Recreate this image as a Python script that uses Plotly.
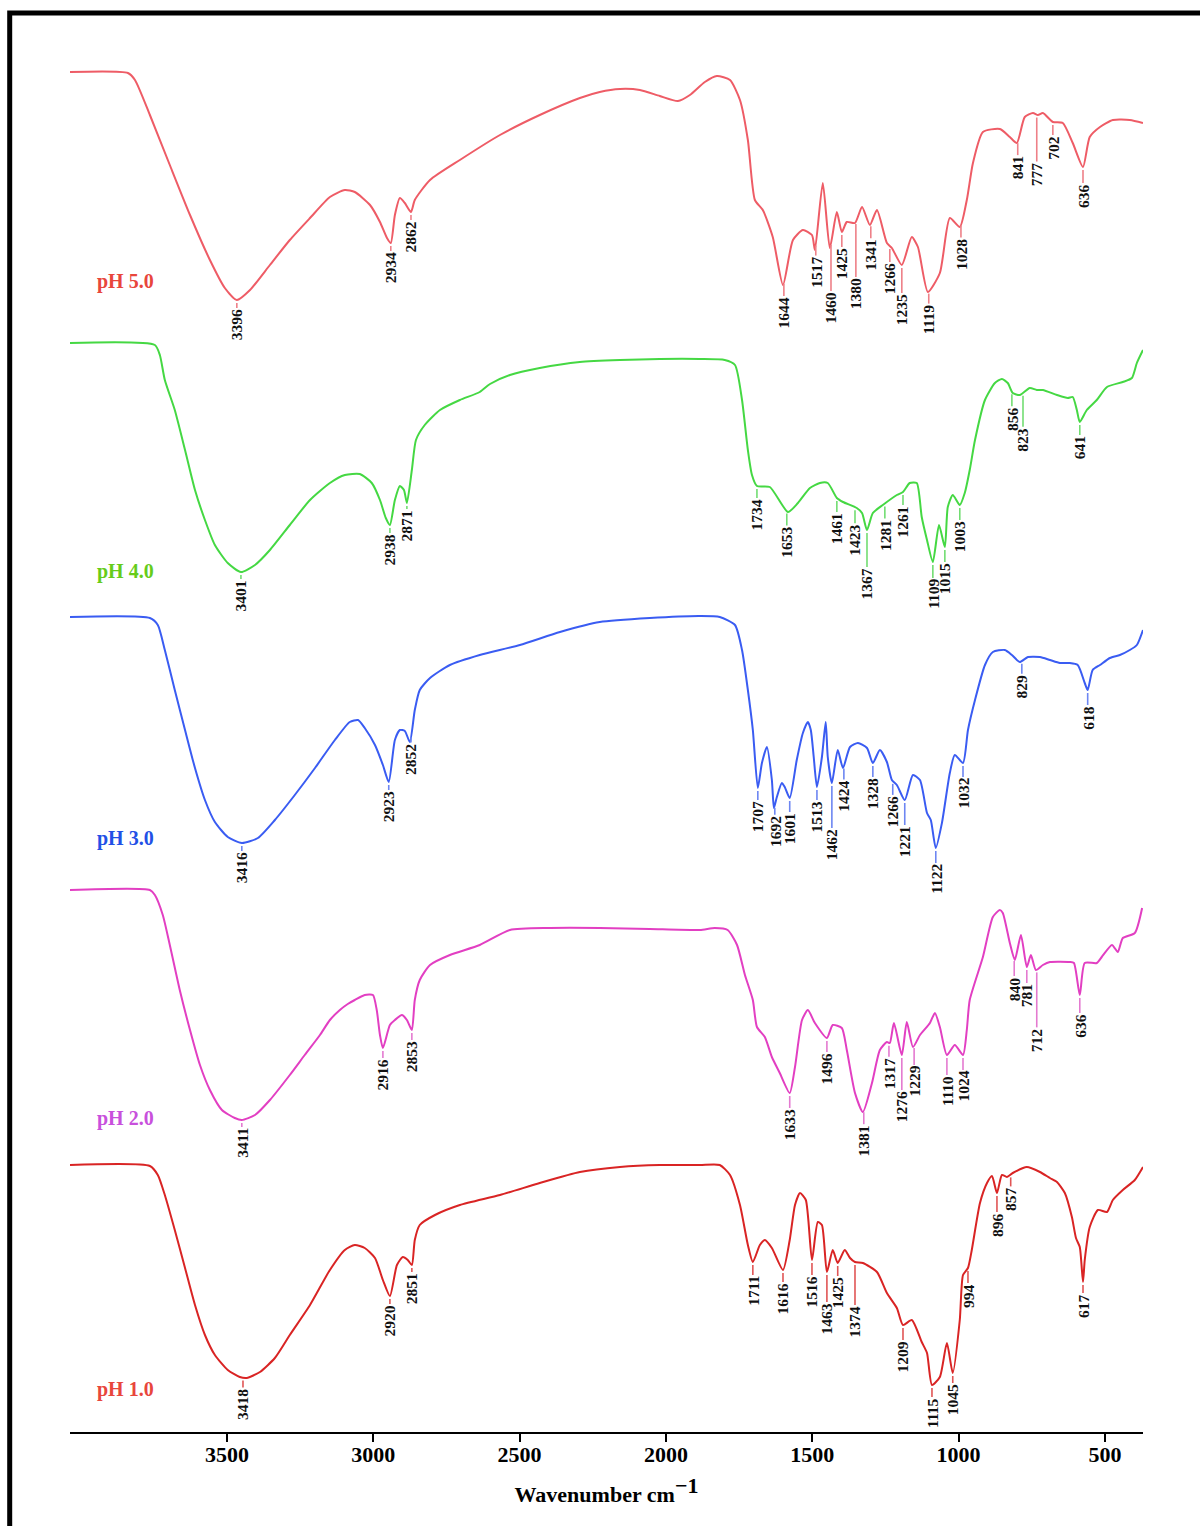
import numpy as np
import plotly.graph_objects as go

# ---------------- data (wavenumber in cm-1, relative transmittance depth) ----------------
wn_ph5 = [4036,3838,3814,3763,3695,3626,3558,3507,3466,3421,3353,3285,3216,3148,3097,3063,3011,2977,2953,2940,
          2926,2909,2892,2871,2858,2806,2704,2567,2431,2294,2226,2157,2089,2021,1959,1918,1867,1826,1781,1747,
          1720,1696,1669,1635,1600,1566,1532,1501,1491,1464,1440,1416,1399,1382,1354,1330,1303,1279,1245,1228,
          1194,1160,1139,1105,1064,1030,996,972,951,917,859,825,801,774,746,729,712,678,644,610,
          575,552,517,473,415,370]
depth_ph5 = [0,1,8,43,93,143,188,216,228,218,193,168,146,125,118,120,133,150,166,171,
             143,126,131,140,128,108,88,63,43,26,20,17,18,24,29,23,10,4,8,28,
             68,128,138,165,213,168,158,163,178,111,176,140,160,150,151,135,153,138,171,176,
             193,165,175,220,201,146,155,128,91,60,57,65,71,45,41,43,41,50,51,71,
             95,65,55,48,48,51]

wn_ph4 = [4036,3746,3729,3712,3678,3643,3609,3575,3541,3497,3452,3404,3353,3285,3216,3148,3097,3046,3005,2977,
          2957,2943,2926,2909,2895,2885,2868,2854,2824,2772,2704,2636,2601,2533,2431,2294,2157,2021,1884,1799,
          1764,1740,1720,1706,1689,1645,1583,1549,1508,1474,1447,1416,1395,1348,1330,1313,1293,1259,1211,1190,
          1167,1143,1126,1108,1088,1067,1047,1037,1020,996,979,962,944,910,876,852,832,815,791,757,
          733,712,664,627,610,596,586,562,528,493,439,408,391,370]
depth_ph4 = [0,2,12,37,67,107,147,177,202,220,229,222,207,182,157,140,132,131,140,157,
             175,182,157,143,147,160,127,97,82,67,57,49,41,32,25,19,17,16,16,17,
             22,57,107,132,143,144,169,160,145,140,140,155,159,165,170,187,170,162,152,149,
             140,140,174,197,219,182,204,164,152,162,150,127,97,57,40,36,40,50,52,45,
             47,47,52,55,54,67,79,67,57,44,39,35,20,7]

wn_ph3 = [4036,3763,3736,3712,3678,3643,3609,3575,3541,3497,3449,3394,3336,3268,3199,3131,3080,3052,3029,2994,
          2967,2947,2926,2909,2892,2875,2858,2841,2806,2738,2636,2499,2362,2226,2055,1884,1816,1764,1740,1720,
          1703,1686,1672,1655,1638,1631,1621,1604,1594,1577,1553,1532,1515,1505,1495,1484,1467,1454,1447,1433,
          1413,1395,1371,1344,1313,1293,1269,1245,1228,1211,1184,1156,1132,1108,1095,1078,1057,1030,1013,985,
          968,944,910,883,842,818,791,763,722,688,654,620,593,569,559,542,517,483,449,415,391,370]
depth_ph3 = [0,1,8,33,73,113,151,183,205,220,226,221,203,178,151,123,105,103,111,128,
             148,165,123,113,114,125,93,73,61,48,38,28,15,5,1,-1,0,8,33,73,
             113,171,146,130,163,191,180,166,170,181,143,116,105,113,140,170,140,105,140,166,
             133,151,130,126,131,146,133,145,163,168,183,158,163,196,203,231,206,156,138,146,
             113,83,48,35,33,38,45,40,40,43,46,46,48,66,73,53,48,41,38,33,28,13]

wn_ph2 = [4036,3763,3746,3719,3695,3661,3626,3592,3558,3517,3473,3449,3404,3353,3285,3234,3182,3148,3114,3087,
          3063,3029,3001,2988,2977,2967,2943,2926,2902,2885,2868,2858,2841,2806,2738,2636,2533,2396,2226,2055,
          1884,1833,1789,1757,1730,1703,1689,1662,1638,1611,1577,1559,1535,1515,1491,1450,1430,1399,1382,1354,
          1327,1296,1269,1245,1235,1221,1194,1177,1156,1132,1098,1081,1064,1040,1013,985,972,962,917,883,
          859,849,825,808,787,767,753,736,712,688,620,606,586,569,528,511,476,456,439,398,373]
depth_ph2 = [0,0,5,25,55,100,140,175,200,220,228,230,225,210,185,165,145,130,120,114,
             110,105,105,120,145,158,135,130,125,130,140,110,90,75,65,55,40,38,38,39,
             40,38,40,55,85,110,137,147,167,183,203,177,130,120,133,148,135,138,160,203,
             222,193,160,152,153,133,165,132,157,145,133,123,137,165,155,165,140,110,67,27,
             20,23,53,70,45,77,65,80,75,72,72,73,105,73,73,67,55,62,48,43,18]

wn_ph1 = [4036,3763,3736,3712,3678,3643,3609,3575,3541,3497,3456,3432,3387,3336,3285,3216,3148,3097,3063,3029,
          2994,2967,2943,2919,2899,2882,2868,2858,2841,2789,2704,2567,2431,2294,2157,2021,1884,1816,1781,1747,
          1720,1703,1679,1662,1638,1600,1577,1559,1542,1522,1501,1481,1467,1450,1430,1413,1389,1371,1354,1327,
          1279,1245,1211,1190,1160,1126,1108,1091,1064,1040,1020,996,985,968,955,927,903,886,869,852,
          835,815,767,722,688,664,637,613,599,586,575,569,552,524,493,473,439,398,370]
depth_ph1 = [0,1,10,30,65,103,140,170,190,205,212,213,207,193,170,140,105,85,80,83,
             93,115,131,100,92,95,100,75,60,50,40,30,18,7,2,0,0,0,10,40,
             80,97,80,75,83,105,75,40,28,35,95,57,60,107,85,98,85,93,97,98,
             107,128,143,160,155,177,188,220,212,178,208,155,110,103,85,38,18,11,28,10,
             12,8,2,7,13,17,28,52,73,82,117,95,62,45,47,35,25,15,2]

# peak labels: position, printed value
pk_ph5_pos = [3466,2940,2871,1597,1488,1436,1399,1351,1300,1235,1194,1102,992,798,733,678,575]
pk_ph5_txt = ["3396","2934","2862","1644","1517","1460","1425","1380","1341","1266","1235","1119","1028","841","777","702","636"]
pk_ph4_pos = [3452,2943,2885,1689,1587,1416,1354,1313,1252,1190,1088,1047,996,818,780,586]
pk_ph4_txt = ["3401","2938","2871","1734","1653","1461","1423","1367","1281","1261","1109","1015","1003","856","823","641"]
pk_ph3_pos = [3449,2947,2871,1686,1628,1577,1484,1433,1392,1293,1225,1184,1078,985,784,559]
pk_ph3_txt = ["3416","2923","2852","1707","1692","1601","1513","1462","1424","1328","1266","1221","1122","1032","829","618"]
pk_ph2_pos = [3449,2967,2868,1577,1450,1324,1238,1194,1152,1040,985,810,767,733,586]
pk_ph2_txt = ["3411","2916","2853","1633","1496","1381","1317","1276","1229","1110","1024","840","781","712","636"]
pk_ph1_pos = [3445,2943,2868,1703,1600,1501,1450,1413,1354,1190,1091,1020,968,869,822,575]
pk_ph1_txt = ["3418","2920","2851","1711","1616","1516","1463","1425","1374","1209","1115","1045","994","896","857","617"]

tick_vals = [3500, 3000, 2500, 2000, 1500, 1000, 500]
names = ["pH 5.0", "pH 4.0", "pH 3.0", "pH 2.0", "pH 1.0"]

# ---------------- layout / styling ----------------
lead_ph5 = [8,8,8,15,13,49,15,56,15,16,28,13,15,15,47,13,16]
lead_ph4 = [7,8,6,12,15,14,16,37,15,13,16,15,15,15,34,13]
lead_ph3 = [8,8,8,12,10,14,13,45,14,14,14,25,15,14,13,15]
lead_ph2 = [7,10,10,15,14,15,14,35,20,20,15,18,16,58,18]
lead_ph1 = [10,8,7,13,12,15,30,13,43,15,12,10,15,19,12,11]

offsets = [1360, 1089, 815, 542, 267]
line_colors = ["#EE5C66", "#45D843", "#3A5CF2", "#E23FC2", "#D92424"]
lead_colors = ["#EE8088", "#72DD72", "#6D86F2", "#E47AD0", "#E05555"]
name_colors = ["#E8463C", "#66CC1A", "#2250E6", "#C850DC", "#E8463C"]
name_y = [1151, 861, 594, 314, 43]

spectra = [
    (wn_ph5, depth_ph5, pk_ph5_pos, pk_ph5_txt, lead_ph5),
    (wn_ph4, depth_ph4, pk_ph4_pos, pk_ph4_txt, lead_ph4),
    (wn_ph3, depth_ph3, pk_ph3_pos, pk_ph3_txt, lead_ph3),
    (wn_ph2, depth_ph2, pk_ph2_pos, pk_ph2_txt, lead_ph2),
    (wn_ph1, depth_ph1, pk_ph1_pos, pk_ph1_txt, lead_ph1),
]

SERIF = "Liberation Serif, Times New Roman, serif"
fig = go.Figure()
annotations = []
gap = 3

for i, (wn, dep, ppos, ptxt, lead) in enumerate(spectra):
    wn = np.asarray(wn, float)
    y = offsets[i] - np.asarray(dep, float)
    fig.add_trace(go.Scatter(x=wn, y=y, mode="lines", name=names[i],
                             line=dict(color=line_colors[i], width=2, shape="spline", smoothing=0.6),
                             hoverinfo="skip", showlegend=False))
    lx, ly = [], []
    for p, t, L in zip(ppos, ptxt, lead):
        yc = float(np.interp(p, wn[::-1], y[::-1]))
        lx += [p, p, None]
        ly += [yc - gap, yc - L, None]
        annotations.append(dict(x=p, y=yc - L, xref="x", yref="y", text=t, showarrow=False,
                                textangle=-90, xanchor="center", yanchor="top",
                                font=dict(family=SERIF, size=15.5, color="#111111", weight="bold"),
                                borderpad=0))
    fig.add_trace(go.Scatter(x=lx, y=ly, mode="lines", line=dict(color=lead_colors[i], width=1.6),
                             hoverinfo="skip", showlegend=False))
    annotations.append(dict(x=3848, y=name_y[i], xref="x", yref="y", text="<b>%s</b>" % names[i],
                            showarrow=False, xanchor="center", yanchor="middle",
                            font=dict(family=SERIF, size=20, color=name_colors[i])))

W, H = 1200, 1526
ml, mr, mt, mb = 70, 57, 0, 94
pw, ph = W - ml - mr, H - mt - mb

def px_to_paper_x(px):
    return (px - ml) / pw

def px_to_paper_y(py):
    return 1 - (py - mt) / ph

shapes = [dict(type="rect", xref="paper", yref="paper",
               x0=px_to_paper_x(9.7), x1=px_to_paper_x(1206),
               y0=px_to_paper_y(1545), y1=px_to_paper_y(13),
               line=dict(color="black", width=5), fillcolor="rgba(0,0,0,0)", layer="above")]

fig.update_layout(
    width=W, height=H, autosize=False,
    margin=dict(l=ml, r=mr, t=mt, b=mb, pad=0),
    paper_bgcolor="white", plot_bgcolor="white",
    annotations=annotations, shapes=shapes,
    xaxis=dict(range=[4036, 370], tickvals=tick_vals, ticktext=[str(v) for v in tick_vals],
               showgrid=False, zeroline=False, showline=True, linecolor="black", linewidth=2,
               ticks="outside", ticklen=8, tickwidth=1.5, tickcolor="black",
               ticklabelstandoff=-6,
               tickfont=dict(family=SERIF, size=22, color="black", weight="bold"),
               title=dict(text="<b>Wavenumber cm<sup><span style='font-size:22px'>−1</span></sup></b>",
                          standoff=20, font=dict(family=SERIF, size=22, color="black"))),
    yaxis=dict(range=[0, ph], visible=False, showgrid=False, zeroline=False),
)

fig.write_html("out.html")
